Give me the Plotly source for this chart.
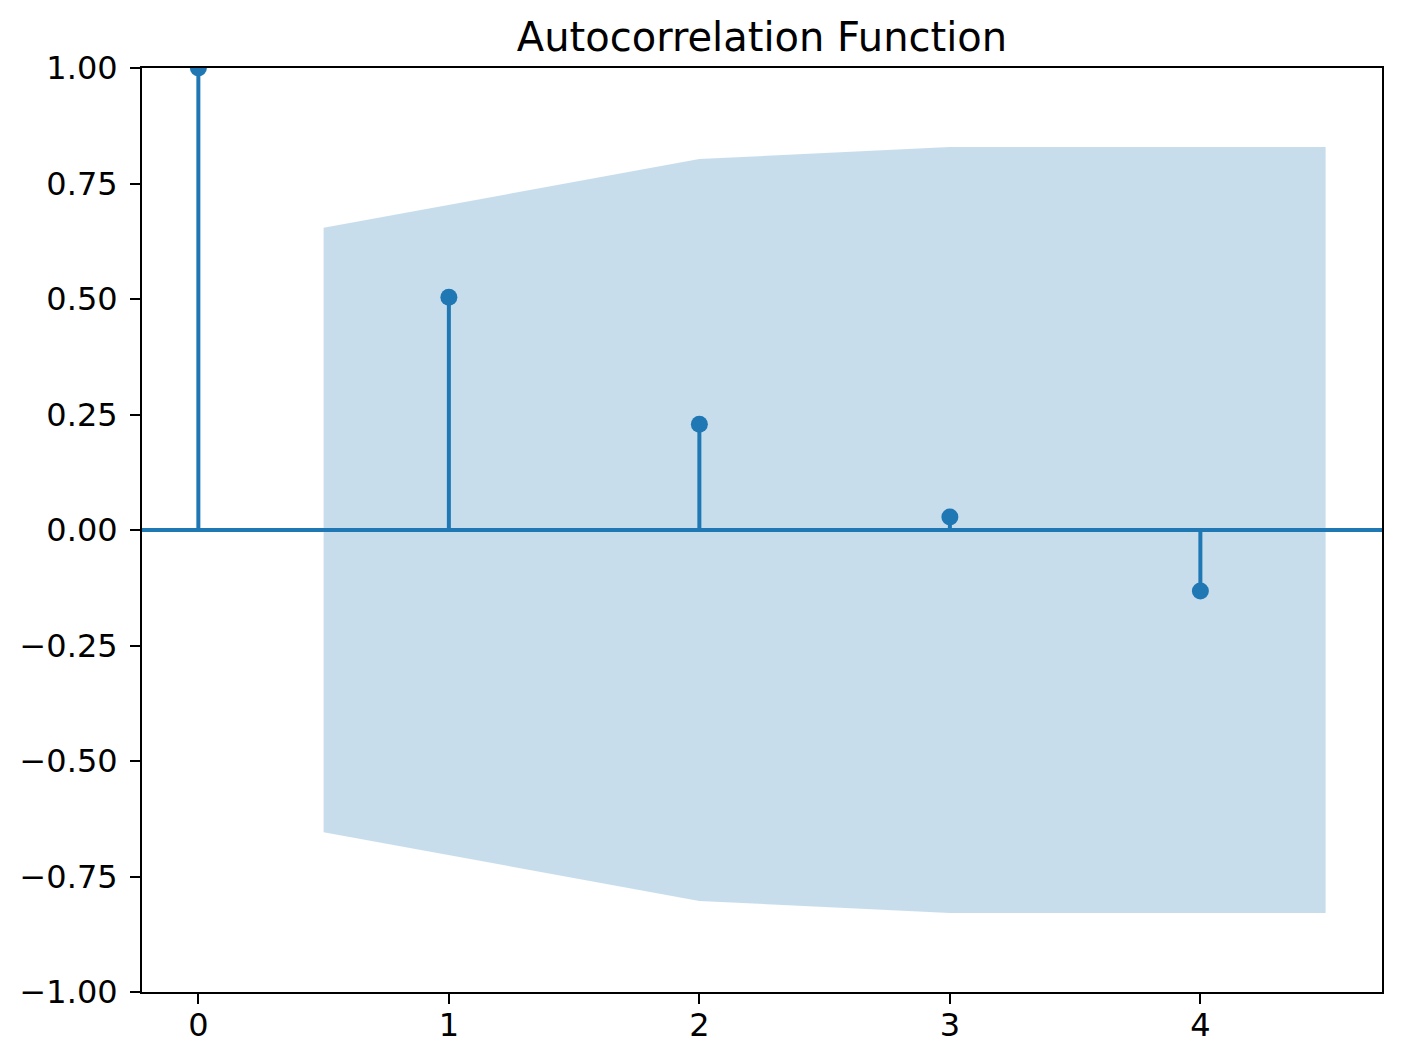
import plotly.graph_objects as go

lags = [0, 1, 2, 3, 4]
acf_values = [1.0, 0.504, 0.229, 0.028, -0.132]
band_x = [0.5, 2.0, 3.0, 4.5]
band_upper = [0.654, 0.803, 0.829, 0.829]
band_lower = [-0.654, -0.803, -0.829, -0.829]

x_tick_vals = [0, 1, 2, 3, 4]
x_tick_text = ["0", "1", "2", "3", "4"]
y_tick_vals = [1.0, 0.75, 0.5, 0.25, 0.0, -0.25, -0.5, -0.75, -1.0]
y_tick_text = ["1.00", "0.75", "0.50", "0.25", "0.00", "\u22120.25", "\u22120.50", "\u22120.75", "\u22121.00"]

BLUE = "#1f77b4"

fig = go.Figure()

# confidence band
fig.add_trace(go.Scatter(
    x=band_x + band_x[::-1],
    y=band_upper + band_lower[::-1],
    fill="toself",
    fillcolor="rgba(31,119,180,0.25)",
    line=dict(width=0),
    mode="lines",
    hoverinfo="skip",
    showlegend=False,
))

# stems
sx, sy = [], []
for lg, v in zip(lags, acf_values):
    sx += [lg, lg, None]
    sy += [0, v, None]
fig.add_trace(go.Scatter(x=sx, y=sy, mode="lines",
                         line=dict(color=BLUE, width=4), showlegend=False))

# zero line
fig.add_shape(type="line", xref="paper", x0=0, x1=1, yref="y", y0=0, y1=0,
              line=dict(color=BLUE, width=4), layer="above")

# markers
fig.add_trace(go.Scatter(x=lags, y=acf_values, mode="markers",
                         marker=dict(color=BLUE, size=17), showlegend=False))

axis_common = dict(
    showgrid=False, zeroline=False, showline=True, linecolor="black", linewidth=2,
    mirror=True, ticks="outside", ticklen=10, tickwidth=2, tickcolor="black",
    tickfont=dict(family="DejaVu Sans", size=32, color="black"),
)

fig.update_xaxes(range=[-0.225, 4.725], tickvals=x_tick_vals, ticktext=x_tick_text,
                 ticklabelstandoff=-6, **axis_common)
fig.update_yaxes(range=[-1, 1], tickvals=y_tick_vals, ticktext=y_tick_text,
                 ticklabelstandoff=6, **axis_common)

# page body has an 8px default margin; compensate so the plot area sits where the reference has it
fig.update_layout(
    width=1402, height=1064,
    margin=dict(l=134, r=28, t=60, b=80),
    plot_bgcolor="white", paper_bgcolor="white",
    title=dict(text="Autocorrelation Function", x=(134 + 1374) / 2 / 1402, xanchor="center",
               y=1 - 29 / 1064, yanchor="middle",
               font=dict(family="DejaVu Sans", size=40, color="black")),
    showlegend=False,
)

fig.write_html("out.html")
